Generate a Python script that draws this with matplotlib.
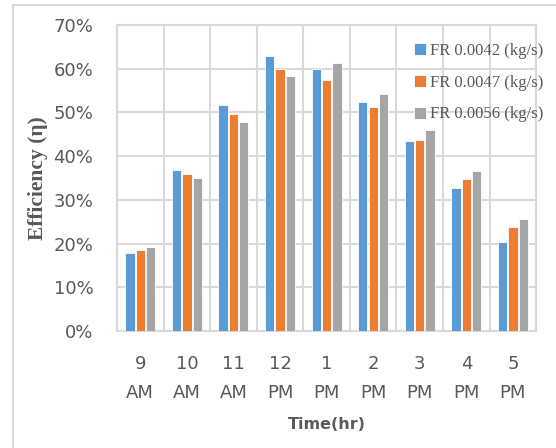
import numpy as np
import matplotlib
matplotlib.use("Agg")
import matplotlib.pyplot as plt
from matplotlib.lines import Line2D
from matplotlib.ticker import PercentFormatter, MultipleLocator

# --- Data ---
times = ["9\nAM", "10\nAM", "11\nAM", "12\nPM", "1\nPM", "2\nPM", "3\nPM", "4\nPM", "5\nPM"]
fr_0042 = [17.8, 36.8, 51.7, 62.8, 60.0, 52.4, 43.4, 32.7, 20.4]
fr_0047 = [18.5, 35.8, 49.7, 60.0, 57.5, 51.2, 43.8, 34.8, 23.8]
fr_0056 = [19.2, 35.1, 47.9, 58.4, 61.2, 54.3, 46.0, 36.6, 25.7]
series_labels = ["FR 0.0042 (kg/s)", "FR 0.0047 (kg/s)", "FR 0.0056 (kg/s)"]

# --- Colors ---
c_blue = "#5b9bd5"
c_orange = "#ed7d31"
c_gray = "#a5a5a5"
c_grid = "#d9d9d9"
c_text = "#595959"

fig = plt.figure(figsize=(5.56, 4.48), dpi=100)
ax = fig.add_axes([0.2104, 0.2612, 0.7540, 0.6830])

# outer frame: only left and top edges fall inside the canvas
fx, fy = 12.5 / 556, 1 - 5.5 / 448
fig.add_artist(Line2D([fx, fx], [0, fy], transform=fig.transFigure,
                      color=c_grid, linewidth=1.5))
fig.add_artist(Line2D([fx, 1], [fy, fy], transform=fig.transFigure,
                      color=c_grid, linewidth=1.5))

x = np.arange(len(times))
offset = 0.222
bar_w = 0.20
for vals, col, lab, k in zip([fr_0042, fr_0047, fr_0056],
                             [c_blue, c_orange, c_gray],
                             series_labels, [-1, 0, 1]):
    ax.bar(x + k * offset, vals, width=bar_w, color=col, label=lab,
           edgecolor="white", linewidth=0.6, zorder=3)

ax.set_xlim(-0.5, len(times) - 0.5)
ax.set_ylim(0, 70)
ax.yaxis.set_major_locator(MultipleLocator(10))
ax.yaxis.set_major_formatter(PercentFormatter(decimals=0))

# vertical gridlines on category boundaries
ax.set_xticks(x)
ax.set_xticks(np.arange(-0.5, len(times), 1.0), minor=True)
ax.set_xticklabels(times, linespacing=1.8)
ax.grid(which="minor", axis="x", color=c_grid, linewidth=1.5, zorder=0)
ax.grid(which="major", axis="y", color=c_grid, linewidth=1.5, zorder=0)

for side in ["top", "right", "left", "bottom"]:
    ax.spines[side].set_color(c_grid)
    ax.spines[side].set_linewidth(1.5)

ax.tick_params(axis="both", which="both", length=0, labelsize=13,
               labelcolor=c_text)
ax.tick_params(axis="x", pad=17)
ax.tick_params(axis="y", pad=17)

ax.set_xlabel("Time(hr)", fontsize=11.5, fontweight="bold", color=c_text,
              labelpad=11)
ax.set_ylabel("Efficiency (\u03b7)", fontsize=15.5, fontweight="bold",
              family="Liberation Serif", color=c_text, labelpad=4)

leg = ax.legend(loc="upper left", bbox_to_anchor=(0.68, 0.98),
                frameon=False, handlelength=0.75, handleheight=0.75,
                handletextpad=0.25, labelspacing=0.95, borderpad=0.2,
                prop={"family": "Liberation Serif", "size": 12})
for t in leg.get_texts():
    t.set_color(c_text)

fig.savefig("out.png", dpi=100)
